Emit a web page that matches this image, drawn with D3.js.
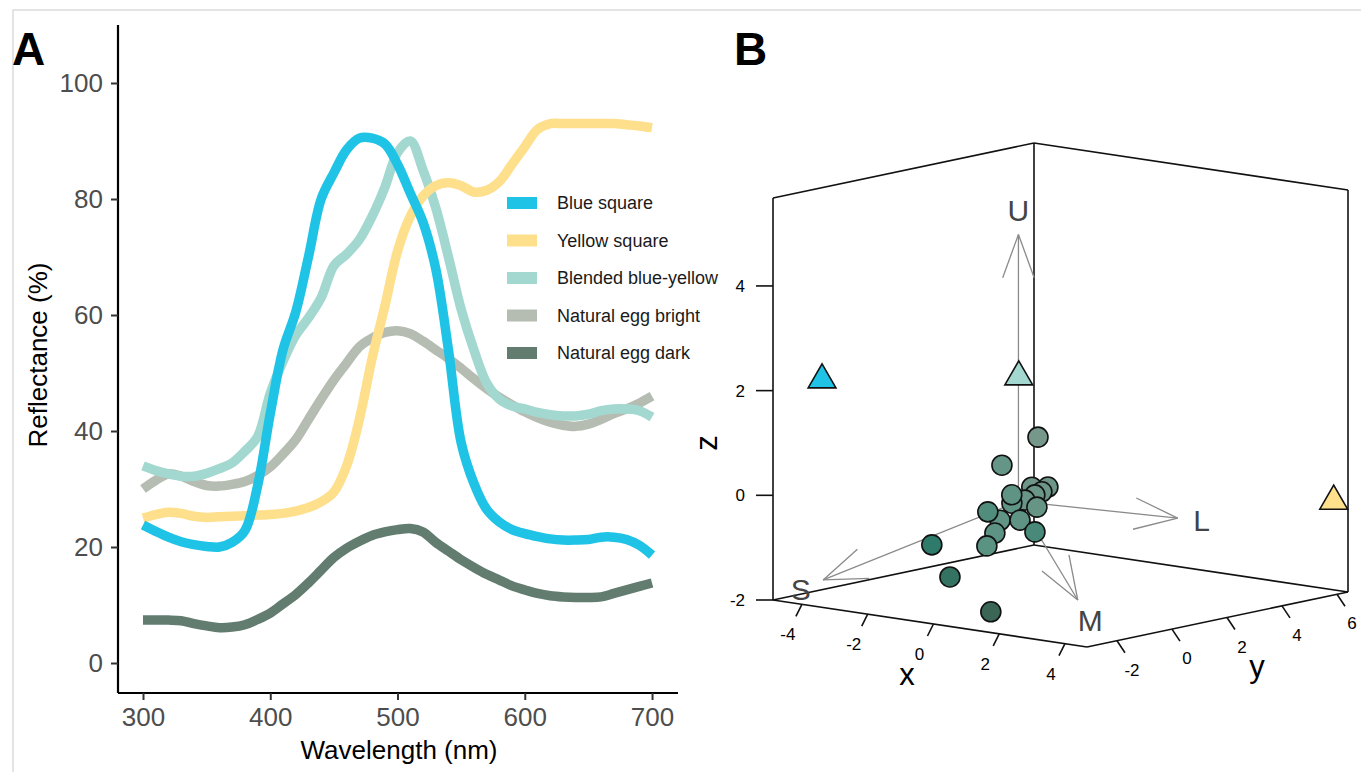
<!DOCTYPE html>
<html>
<head>
<meta charset="utf-8">
<script src="https://cdn.jsdelivr.net/npm/d3@7"></script>
<style>
  body { margin: 0; background: #fff; }
  svg text { font-family: "Liberation Sans", Arial, sans-serif; }
</style>
</head>
<body>
<svg width="1361" height="772"></svg>
<script>
//---------------- Panel A data ----------------
var wavelengths = [300, 310, 320, 330, 340, 350, 360, 370, 380, 390,
                   400, 410, 420, 430, 440, 450, 460, 470, 480, 490,
                   500, 510, 520, 530, 540, 550, 560, 570, 580, 590,
                   600, 610, 620, 630, 640, 650, 660, 670, 680, 690, 700];

var blueSquare = [23.8, 22.7, 21.7, 20.9, 20.4, 20.1, 20.0, 20.8, 22.8, 30.5,
                  43, 54, 60.5, 70, 80, 84.5, 88.5, 90.5, 90.5, 89.5,
                  86, 81, 76, 68, 54, 38, 31, 26.5, 24.3, 23,
                  22.3, 21.8, 21.4, 21.2, 21.2, 21.3, 21.7, 21.7, 21.3, 20.3, 18.6];

var yellowSquare = [25, 25.6, 26, 25.8, 25.3, 25.1, 25.2, 25.3, 25.4, 25.5,
                    25.6, 25.8, 26.2, 26.8, 27.8, 29.5, 34, 42, 52.5, 61.5,
                    71, 77, 80.5, 82.3, 82.8, 82.3, 81.2, 81.5, 83, 86,
                    89, 92, 93, 93, 93, 93, 93, 93, 92.8, 92.6, 92.3];

var blended = [34, 33.2, 32.6, 32.2, 32.2, 32.7, 33.5, 34.5, 36.5, 39,
               46.5, 52, 56.5, 59.5, 63, 68.5, 70.5, 73, 77, 82,
               88, 90, 85, 78.5, 70, 61, 54, 48.3, 45.5, 44.3,
               43.8, 43.2, 42.8, 42.6, 42.6, 42.9, 43.5, 43.8, 43.8, 43.5, 42.4];

var eggBright = [30, 31.5, 32.6, 32.2, 31.3, 30.6, 30.5, 30.8, 31.3, 32.3,
                 33.8, 36, 38.5, 42, 45.5, 48.8, 51.7, 54.5, 56, 57,
                 57.3, 56.8, 55.5, 54, 52.5, 50.8, 49, 47.3, 45.8, 44.5,
                 43.3, 42.3, 41.5, 41, 40.8, 41.2, 42, 43, 43.8, 44.8, 46];

var eggDark = [7.4, 7.4, 7.4, 7.3, 6.8, 6.4, 6.1, 6.2, 6.6, 7.5,
               8.6, 10.2, 11.8, 13.8, 16, 18.2, 19.8, 21, 22, 22.6,
               23, 23.2, 22.6, 20.8, 19.3, 17.8, 16.5, 15.3, 14.3, 13.3,
               12.6, 12, 11.6, 11.4, 11.3, 11.3, 11.4, 12, 12.6, 13.2, 13.8];

var seriesNames = ["Blue square", "Yellow square", "Blended blue-yellow", "Natural egg bright", "Natural egg dark"];
var seriesColors = ["#1fc3e6", "#fedf8c", "#a3d8d0", "#b5bdb2", "#627d70"];
var seriesValues = [blueSquare, yellowSquare, blended, eggBright, eggDark];

var xTicksA = [300, 400, 500, 600, 700];
var yTicksA = [0, 20, 40, 60, 80, 100];

//---------------- Panel B data ----------------
// natural eggs (circles)
var eggX = [-0.66, -0.92, -0.43, 0.06, -0.04, -0.17, -0.37, -0.45, 0.06, -0.39,
            -0.68, -0.81, -0.12, 0.92, -0.80, -0.96, -1.63, -0.41, 1.67];
var eggY = [1.5, 0.5, 1.0, 1.0, 0.9, 0.8, 0.2, 0.3, 0.6, 0.7,
            -0.3, 0.3, 0.2, -0.5, 0.1, 0.0, -1.2, -2.0, -3.0];
var eggZ = [1.00, 0.55, 0.12, 0.17, 0.08, 0.02, 0.07, -0.11, -0.17, -0.09,
            -0.23, -0.47, -0.39, -0.44, -0.69, -0.94, -0.85, -1.26, -1.62];

// artificial eggs (triangles)
var modelNames = ["Blue square", "Blended blue-yellow", "Yellow square"];
var modelX = [-4.30, 0.01, 4.57];
var modelY = [-2, 0, 6];
var modelZ = [2.14, 2.38, -0.23];
var modelColors = ["#1fc3e6", "#a3d8d0", "#fedf8c"];

// receptor axes (arrows)
var coneNames = ["U", "S", "M", "L"];
var coneX = [0, -3.43, 2.75, 4.24];
var coneY = [0, -3, -1.13, 0.72];
var coneZ = [5.1, -1.49, -1.5, 0];

var xTicksB = [-4, -2, 0, 2, 4];
var yTicksB = [-2, 0, 2, 4, 6];
var zTicksB = [-2, 0, 2, 4];

var svg = d3.select("svg");

//light frame around the figure
svg.append("rect")
  .attr("x", 13).attr("y", 10)
  .attr("width", 1400).attr("height", 800)
  .attr("fill", "none")
  .attr("stroke", "#dcdcdc")
  .attr("stroke-width", 1.5);

//panel letters
svg.append("text").attr("x", 12).attr("y", 65)
  .style("font-size", "46px").style("font-weight", "bold").text("A");
svg.append("text").attr("x", 734).attr("y", 65)
  .style("font-size", "46px").style("font-weight", "bold").text("B");

//================ PANEL A ================
var plotL = 118, plotR = 678, plotT = 25, plotB = 693;

var x = d3.scaleLinear().domain([280.35, 720.4]).range([plotL, plotR]),
    y = d3.scaleLinear().domain([-5.17, 110]).range([plotB, plotT]);

var gA = svg.append("g").attr("id", "panel-a");

//X axis
var xAxis = gA.append("g")
  .attr("transform", "translate(0," + plotB + ")")
  .call(d3.axisBottom(x).tickValues(xTicksA).tickSize(7).tickPadding(8));

//Y axis
var yAxis = gA.append("g")
  .attr("transform", "translate(" + plotL + ",0)")
  .call(d3.axisLeft(y).tickValues(yTicksA).tickSize(7).tickPadding(8));

[xAxis, yAxis].forEach(function(ax) {
  ax.select(".domain").attr("stroke", "#000").attr("stroke-width", 2.2);
  ax.selectAll(".tick line").attr("stroke", "#333").attr("stroke-width", 2);
  ax.selectAll(".tick text")
    .attr("fill", "#4d4d4d")
    .style("font-size", "26px")
    .style("font-family", "'Liberation Sans', Arial, sans-serif");
});
xAxis.select(".domain").attr("d", "M" + plotL + ",0H" + plotR);
yAxis.select(".domain").attr("d", "M0," + plotT + "V" + plotB);

//axis titles
gA.append("text")
  .attr("x", 399).attr("y", 759)
  .attr("text-anchor", "middle")
  .style("font-size", "26px")
  .text("Wavelength (nm)");

gA.append("text")
  .attr("transform", "translate(47,355) rotate(-90)")
  .attr("text-anchor", "middle")
  .style("font-size", "26px")
  .text("Reflectance (%)");

//spectra lines (smooth curve through the sampled points)
var line = d3.line()
  .curve(d3.curveCatmullRom.alpha(0.5))
  .x(function(d) { return x(d[0]); })
  .y(function(d) { return y(d[1]); });

var drawOrder = [4, 3, 2, 1, 0];
drawOrder.forEach(function(i) {
  var pts = wavelengths.map(function(w, k) { return [w, seriesValues[i][k]]; });
  gA.append("path")
    .datum(pts)
    .attr("fill", "none")
    .attr("stroke", seriesColors[i])
    .attr("stroke-width", 9.5)
    .attr("stroke-linejoin", "round")
    .attr("d", line);
});

//legend
var legend = gA.selectAll(".legend")
  .data(seriesNames)
  .enter().append("g")
  .attr("class", "legend")
  .attr("transform", function(d, i) { return "translate(507," + (203 + i * 37.5) + ")"; });

legend.append("rect")
  .attr("x", 0).attr("y", -6)
  .attr("width", 30).attr("height", 12)
  .attr("fill", function(d, i) { return seriesColors[i]; });

legend.append("text")
  .attr("x", 50).attr("y", 0)
  .attr("dy", "0.35em")
  .attr("fill", "#1a1a1a")
  .style("font-size", "18px")
  .text(function(d) { return d; });

//================ PANEL B ================
var bx = d3.scaleLinear().domain([-4.88, 4.67]).range([0, 1]),
    by = d3.scaleLinear().domain([-3.09, 6.4]).range([0, 1]),
    bz = d3.scaleLinear().domain([-2, 5.68]).range([0, 1]);

//screen vectors of the box edges
var o3 = [773, 600], ex = [314, 47], ey = [261, -55], ez = [0, -402];

function proj(px, py, pz) {
  var a = bx(px), b = by(py), c = bz(pz);
  return [o3[0] + a * ex[0] + b * ey[0] + c * ez[0],
          o3[1] + a * ex[1] + b * ey[1] + c * ez[1]];
}

var gB = svg.append("g").attr("id", "panel-b");

var X0 = bx.domain()[0], X1 = bx.domain()[1],
    Y0 = by.domain()[0], Y1 = by.domain()[1],
    Z0 = bz.domain()[0], Z1 = bz.domain()[1];

var boxEdges = [
  [[X0, Y0, Z0], [X1, Y0, Z0]],
  [[X1, Y0, Z0], [X1, Y1, Z0]],
  [[X0, Y0, Z0], [X0, Y1, Z0]],
  [[X0, Y1, Z0], [X1, Y1, Z0]],
  [[X0, Y0, Z0], [X0, Y0, Z1]],
  [[X0, Y1, Z0], [X0, Y1, Z1]],
  [[X1, Y1, Z0], [X1, Y1, Z1]],
  [[X0, Y0, Z1], [X0, Y1, Z1]],
  [[X0, Y1, Z1], [X1, Y1, Z1]]
];

gB.selectAll(".box-edge")
  .data(boxEdges)
  .enter().append("line")
  .attr("class", "box-edge")
  .attr("x1", function(d) { return proj.apply(null, d[0])[0]; })
  .attr("y1", function(d) { return proj.apply(null, d[0])[1]; })
  .attr("x2", function(d) { return proj.apply(null, d[1])[0]; })
  .attr("y2", function(d) { return proj.apply(null, d[1])[1]; })
  .attr("stroke", "#111")
  .attr("stroke-width", 1.6);

//x axis ticks
xTicksB.forEach(function(t) {
  var p = proj(t, Y0, Z0);
  gB.append("line")
    .attr("x1", p[0]).attr("y1", p[1])
    .attr("x2", p[0] - 6).attr("y2", p[1] + 12)
    .attr("stroke", "#111").attr("stroke-width", 1.6);
  gB.append("text")
    .attr("x", p[0] - 14).attr("y", p[1] + 36)
    .attr("text-anchor", "middle")
    .style("font-size", "17px")
    .text(t);
});

//y axis ticks
yTicksB.forEach(function(t) {
  var p = proj(X1, t, Z0);
  gB.append("line")
    .attr("x1", p[0]).attr("y1", p[1])
    .attr("x2", p[0] + 8).attr("y2", p[1] + 12)
    .attr("stroke", "#111").attr("stroke-width", 1.6);
  gB.append("text")
    .attr("x", p[0] + 15).attr("y", p[1] + 35)
    .attr("text-anchor", "middle")
    .style("font-size", "17px")
    .text(t);
});

//z axis ticks
zTicksB.forEach(function(t) {
  var p = proj(X0, Y0, t);
  gB.append("line")
    .attr("x1", p[0]).attr("y1", p[1])
    .attr("x2", p[0] - 17).attr("y2", p[1])
    .attr("stroke", "#111").attr("stroke-width", 1.6);
  gB.append("text")
    .attr("x", p[0] - 28).attr("y", p[1])
    .attr("dy", "0.35em")
    .attr("text-anchor", "end")
    .style("font-size", "17px")
    .text(t);
});

//axis names
gB.append("text").attr("x", 907).attr("y", 685)
  .attr("text-anchor", "middle").style("font-size", "31px").text("x");
gB.append("text").attr("x", 1257).attr("y", 677)
  .attr("text-anchor", "middle").style("font-size", "31px").text("y");
gB.append("text").attr("transform", "translate(717,443) rotate(-90)")
  .attr("text-anchor", "middle").style("font-size", "31px").text("z");

//receptor arrows
var ctr = proj(0, 0, 0);
coneNames.forEach(function(name, i) {
  var tip = proj(coneX[i], coneY[i], coneZ[i]);
  var ang = Math.atan2(ctr[1] - tip[1], ctr[0] - tip[0]);
  var head = 46, spread = 20 * Math.PI / 180;
  var g = gB.append("g").attr("stroke", "#8a8a8a").attr("stroke-width", 1.3);
  g.append("line")
    .attr("x1", ctr[0]).attr("y1", ctr[1])
    .attr("x2", tip[0]).attr("y2", tip[1]);
  [-spread, spread].forEach(function(s) {
    g.append("line")
      .attr("x1", tip[0]).attr("y1", tip[1])
      .attr("x2", tip[0] + head * Math.cos(ang + s))
      .attr("y2", tip[1] + head * Math.sin(ang + s));
  });
  gB.append("text")
    .attr("x", tip[0] - 24 * Math.cos(ang))
    .attr("y", tip[1] - 24 * Math.sin(ang))
    .attr("dy", "0.36em")
    .attr("text-anchor", "middle")
    .attr("fill", "#444")
    .style("font-size", "30px")
    .text(name);
});

//natural egg points, shaded by depth (y)
var depthColor = d3.scaleLinear()
  .domain([-3, -1.2, 0, 1.5])
  .range(["#3b6656", "#2e7b6b", "#5b9383", "#76988b"]);

var eggs = eggX.map(function(v, i) { return {x: v, y: eggY[i], z: eggZ[i]}; })
  .sort(function(a, b) { return b.y - a.y; });

gB.selectAll(".egg")
  .data(eggs)
  .enter().append("circle")
  .attr("class", "egg")
  .attr("cx", function(d) { return proj(d.x, d.y, d.z)[0]; })
  .attr("cy", function(d) { return proj(d.x, d.y, d.z)[1]; })
  .attr("r", 10)
  .attr("fill", function(d) { return depthColor(d.y); })
  .attr("stroke", "#111")
  .attr("stroke-width", 1.6);

//artificial eggs
var tri = d3.symbol().type(d3.symbolTriangle).size(335);
gB.selectAll(".model")
  .data(modelNames)
  .enter().append("path")
  .attr("class", "model")
  .attr("d", tri)
  .attr("transform", function(d, i) {
    var p = proj(modelX[i], modelY[i], modelZ[i]);
    return "translate(" + p[0] + "," + p[1] + ")";
  })
  .attr("fill", function(d, i) { return modelColors[i]; })
  .attr("stroke", "#111")
  .attr("stroke-width", 1.6);
</script>
</body>
</html>
